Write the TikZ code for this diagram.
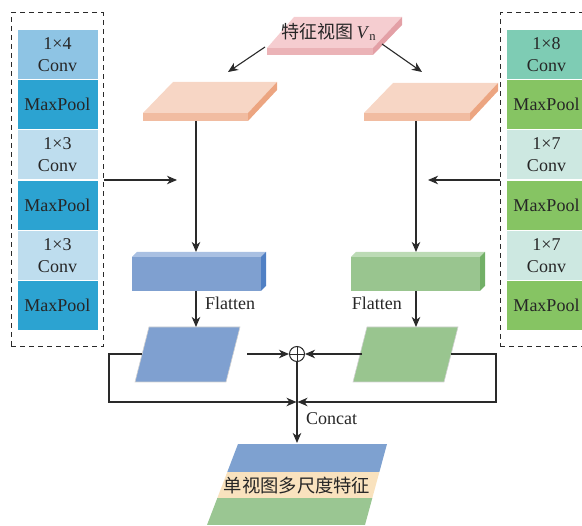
\documentclass[tikz,border=0pt]{standalone}
\usepackage{fontspec}
\setmainfont{Liberation Serif}
\newfontfamily\cjk{Noto Sans CJK SC}
\usetikzlibrary{arrows.meta,calc}
\definecolor{linec}{HTML}{2A2A2A}
\definecolor{lconvA}{HTML}{8EC4E4}
\definecolor{lpool}{HTML}{2CA3D1}
\definecolor{lconvB}{HTML}{BEDDEE}
\definecolor{rconvA}{HTML}{7ECCB4}
\definecolor{rpool}{HTML}{86C463}
\definecolor{rconvB}{HTML}{CDE8E1}
\definecolor{pinkTop}{HTML}{F5CDD0}
\definecolor{pinkFront}{HTML}{EBB3B7}
\definecolor{pinkSide}{HTML}{E3A0A6}
\definecolor{orTop}{HTML}{F7D6C5}
\definecolor{orFront}{HTML}{F1BCA1}
\definecolor{orSide}{HTML}{ECA581}
\definecolor{bFront}{HTML}{7FA0D0}
\definecolor{bTop}{HTML}{A9C0E2}
\definecolor{bSide}{HTML}{5080C4}
\definecolor{gFront}{HTML}{99C58F}
\definecolor{gTop}{HTML}{BCDBB5}
\definecolor{gSide}{HTML}{72B067}
\definecolor{outBlue}{HTML}{7EA1D0}
\definecolor{outBeige}{HTML}{F9E2BE}
\definecolor{outGreen}{HTML}{9AC692}
\begin{document}
\begin{tikzpicture}[x=1pt,y=-1pt,
  line/.style={draw=linec, line width=1.1pt},
  arr/.style={line, -{Stealth[length=10pt,width=8.5pt,inset=3pt]}},
  blk/.style={rectangle, draw=white, line width=1pt, minimum width=81pt,
    minimum height=50.3pt, inner sep=0pt, align=center,
    font=\fontsize{18}{22}\selectfont, text=black!85},
  lbl/.style={font=\fontsize{18}{22}\selectfont, inner sep=0pt, text=black!85},
  dbox/.style={draw=linec, dash pattern=on 5pt off 4pt, line width=1pt,
    rectangle, inner sep=0pt},
  para/.style={draw=black!18, line width=0.6pt}
]
\useasboundingbox (0,0) rectangle (582,526);
\clip (0,0) rectangle (582,526);

% ---------- left column ----------
\node[dbox, minimum width=92pt, minimum height=334pt] (lbox) at (57,180) {};
\node[blk, fill=lconvA] (l1) at (57.5,54.2) {1×4\\Conv};
\node[blk, fill=lpool]  (l2) at (57.5,104.5) {MaxPool};
\node[blk, fill=lconvB] (l3) at (57.5,154.8) {1×3\\Conv};
\node[blk, fill=lpool]  (l4) at (57.5,205.2) {MaxPool};
\node[blk, fill=lconvB] (l5) at (57.5,255.5) {1×3\\Conv};
\node[blk, fill=lpool]  (l6) at (57.5,305.8) {MaxPool};

% ---------- right column ----------
\node[dbox, minimum width=100pt, minimum height=334pt] (rbox) at (550,180) {};
\node[blk, fill=rconvA] (r1) at (546.5,54.2) {1×8\\Conv};
\node[blk, fill=rpool]  (r2) at (546.5,104.5) {MaxPool};
\node[blk, fill=rconvB] (r3) at (546.5,154.8) {1×7\\Conv};
\node[blk, fill=rpool]  (r4) at (546.5,205.2) {MaxPool};
\node[blk, fill=rconvB] (r5) at (546.5,255.5) {1×7\\Conv};
\node[blk, fill=rpool]  (r6) at (546.5,305.8) {MaxPool};

% ---------- top view slab ----------
\fill[pinkTop] (267,48) -- (373,48) -- (402,17) -- (294,17) -- cycle;
\fill[pinkFront] (267,48) rectangle (373,55);
\fill[pinkSide] (373,48) -- (402,17) -- (402,25) -- (373,55) -- cycle;
\node[lbl] (view) at (329,32) {{\cjk 特征视图}\,\textit{V}\textsubscript{n}};
\coordinate (viewL) at (265,47);
\coordinate (viewR) at (382,44);

% ---------- orange slabs ----------
\fill[orTop] (143,113) -- (248,113) -- (277,82) -- (173,82) -- cycle;
\fill[orFront] (143,113) rectangle (248,121);
\fill[orSide] (248,113) -- (277,82) -- (277,90) -- (248,121) -- cycle;
\coordinate (oL) at (196,121);
\coordinate (oLin) at (228,72);
\coordinate (oLside) at (177,180);

\fill[orTop] (364,113) -- (470,113) -- (498,83) -- (393,83) -- cycle;
\fill[orFront] (364,113) rectangle (470,121);
\fill[orSide] (470,113) -- (498,83) -- (498,91) -- (470,121) -- cycle;
\coordinate (oR) at (416,121);
\coordinate (oRin) at (422,72);
\coordinate (oRside) at (428,180);

% ---------- 3D boxes ----------
\fill[bTop] (132,257) -- (261,257) -- (266,252) -- (137,252) -- cycle;
\fill[bFront] (132,257) rectangle (261,291);
\fill[bSide] (261,257) -- (266,252) -- (266,286) -- (261,291) -- cycle;
\coordinate (bBt) at (196,252);
\coordinate (bBb) at (196,291);

\fill[gTop] (351,257) -- (480,257) -- (485,252) -- (356,252) -- cycle;
\fill[gFront] (351,257) rectangle (480,291);
\fill[gSide] (480,257) -- (485,252) -- (485,286) -- (480,291) -- cycle;
\coordinate (gBt) at (416,252);
\coordinate (gBb) at (416,291);

% ---------- parallelograms ----------
\path[fill=bFront, para] (135,382) -- (226,382) -- (240,327) -- (149,327) -- cycle;
\coordinate (bPt) at (196,327);
\coordinate (bPl) at (142,354);
\coordinate (bPr) at (247,354);
\path[fill=gFront, para] (353,382) -- (444,382) -- (458,327) -- (367,327) -- cycle;
\coordinate (gPt) at (416,327);
\coordinate (gPl) at (362,354);
\coordinate (gPr) at (451,354);

\node[lbl, anchor=west] (fl) at (205,303) {Flatten};
\node[lbl, anchor=east] (fr) at (402,303) {Flatten};

% ---------- oplus ----------
\node[circle, draw=linec, line width=1pt, minimum size=15pt, inner sep=0pt, fill=white] (op) at (297,354) {};
\draw[linec, line width=0.9pt] (op.north) -- (op.south) (op.west) -- (op.east);
\coordinate (cat) at (297,402);
\coordinate (catL) at (296.5,402);
\coordinate (catR) at (297.5,402);

% ---------- output ----------
\begin{scope}
\clip (207,525) -- (365,525) -- (387,444) -- (238,444) -- cycle;
\fill[outBlue] (200,444) rectangle (400,472);
\fill[outBeige] (200,472) rectangle (400,498);
\fill[outGreen] (200,498) rectangle (400,527);
\end{scope}
\node[lbl, font=\cjk\fontsize{18.3}{22}\selectfont] (out) at (297,486) {单视图多尺度特征};
\coordinate (outT) at (297,443);
\node[lbl, anchor=west] (concat) at (306,419) {Concat};

% ---------- connectors ----------
\draw[arr] (viewL) -- (oLin);
\draw[arr] (viewR) -- (oRin);
\draw[arr] (oL) -- (bBt);
\draw[arr] (oR) -- (gBt);
\draw[arr] (lbox.east) -- (oLside);
\draw[arr] (rbox.west) -- (oRside);
\draw[arr] (bBb) -- (bPt);
\draw[arr] (gBb) -- (gPt);
\draw[arr] (bPr) -- (op.west);
\draw[arr] (gPl) -- (op.east);
\draw[arr] (bPl) -| (109,402) -- (catL);
\draw[arr] (gPr) -| (496,402) -- (catR);
\draw[arr] (op.south) -- (outT);
\end{tikzpicture}
\end{document}
